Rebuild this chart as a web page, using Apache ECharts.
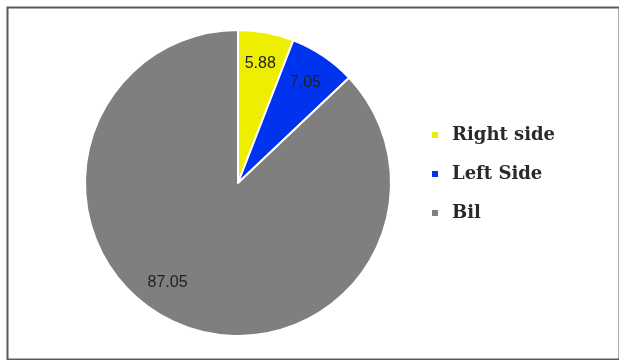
<!DOCTYPE html>
<html>
<head>
<meta charset="utf-8">
<script src="https://cdn.jsdelivr.net/npm/echarts@6/dist/echarts.min.js"></script>
<style>
html,body{margin:0;padding:0;background:#fff;}
#c{width:619px;height:360px;}
</style>
</head>
<body>
<div id="c"></div>
<script>
const categories = ['Right side', 'Left Side', 'Bil'];
const values = [5.88, 7.05, 87.05];
const colors = ['#eeee00', '#0033ee', '#7f7f7f'];

const data = categories.map((n, i) => ({ name: n, value: values[i], itemStyle: { color: colors[i] } }));
const labelSeries = (startAngle, outer, show) => ({
  type: 'pie',
  center: [238, 183],
  radius: [0, outer],
  startAngle: startAngle,
  clockwise: true,
  silent: true,
  legendHoverLink: false,
  data: categories.map((n, i) => ({
    name: n, value: values[i],
    itemStyle: { color: 'rgba(0,0,0,0)' },
    label: { show: show[i] }
  })),
  label: {
    position: 'inside',
    formatter: p => p.value.toFixed(2),
    fontFamily: 'Liberation Sans', fontSize: 16, color: '#222'
  },
  labelLine: { show: false },
  itemStyle: { borderWidth: 0 },
  emphasis: { disabled: true }
});

const chart = echarts.init(document.getElementById('c'));
chart.setOption({
  animation: false,
  graphic: [{
    type: 'rect', left: 5, top: 5, silent: true,
    shape: { width: 612, height: 352 },
    style: { fill: 'none', stroke: '#5a5a5a', lineWidth: 2 }
  }],
  legend: {
    orient: 'vertical',
    left: 425, top: 121,
    itemWidth: 8, itemHeight: 8, itemGap: 21,
    icon: 'rect',
    data: categories,
    textStyle: { fontFamily: 'DejaVu Serif', fontSize: 18, fontWeight: 'bold', color: '#2a2a2a', padding: [0, 0, 0, 8] }
  },
  series: [{
    type: 'pie',
    center: [238, 183],
    radius: [0, 153],
    startAngle: 90,
    clockwise: true,
    data: data,
    label: { show: false },
    labelLine: { show: false },
    itemStyle: { borderColor: '#ffffff', borderWidth: 2 },
    emphasis: { disabled: true }
  },
  labelSeries(90, 236, [true, true, false]),
  labelSeries(78, 238, [false, false, true])
  ]
});
</script>
</body>
</html>
